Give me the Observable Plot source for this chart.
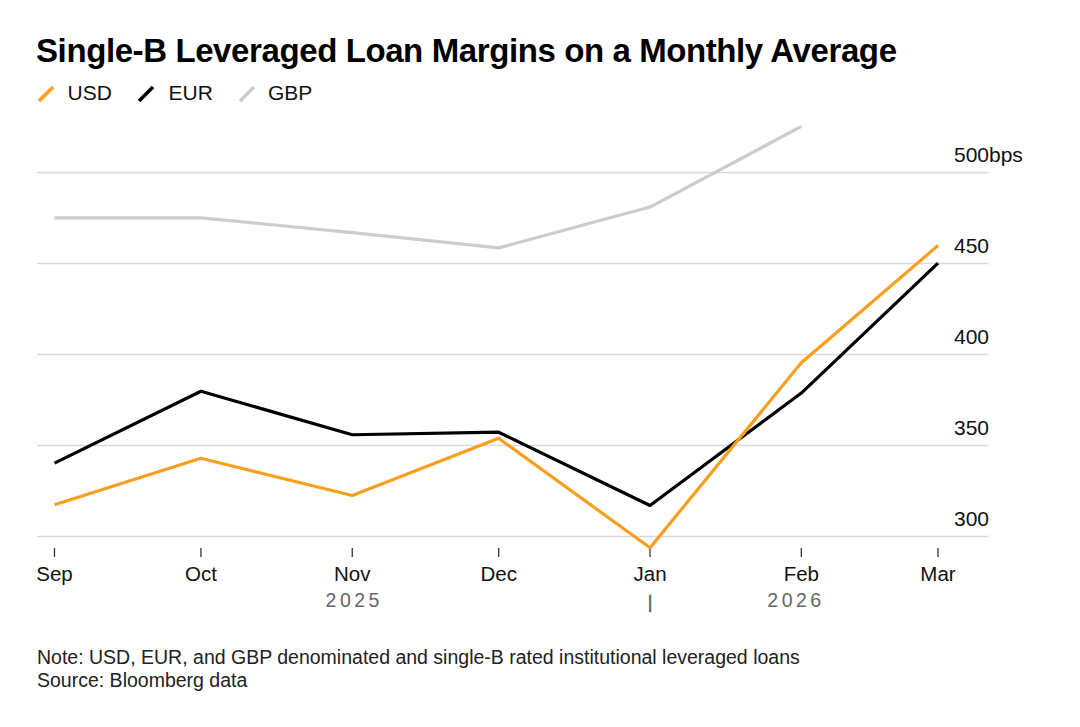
<!DOCTYPE html>
<html><head><meta charset="utf-8">
<script src="https://cdn.jsdelivr.net/npm/d3@7"></script>
<script src="https://cdn.jsdelivr.net/npm/@observablehq/plot@0.6"></script>
<style>
body{margin:0;background:#fff;font-family:"Liberation Sans",Arial,sans-serif;color:#000;width:1080px;height:727px;position:relative;overflow:hidden}
#title{position:absolute;left:36px;top:32px;font-size:33px;line-height:38px;font-weight:bold;white-space:nowrap;letter-spacing:-0.4px}
#legend{position:absolute;left:0;top:81px;width:400px;height:24px;font-size:21px;line-height:24px;color:#111}
#legend span{position:absolute;top:0}
#legend svg{position:absolute;left:0;top:0;overflow:visible}
#chart{position:absolute;left:0;top:110px}
#note{position:absolute;left:37px;top:646px;font-size:19.5px;line-height:22.5px;color:#222;white-space:nowrap}
</style></head>
<body>
<div id="title">Single-B Leveraged Loan Margins on a Monthly Average</div>
<div id="legend"></div>
<div id="chart"></div>
<div id="note">Note: USD, EUR, and GBP denominated and single-B rated institutional leveraged loans<br>Source: Bloomberg data</div>
<script>
const months = ["2025-09-01","2025-10-01","2025-11-01","2025-12-01","2026-01-01","2026-02-01","2026-03-01"];
const monthLabels = ["Sep","Oct","Nov","Dec","Jan","Feb","Mar"];
const usd = [317.4, 343.0, 322.5, 354.0, 293.8, 395.5, 459.9];
const eur = [340.3, 379.8, 355.9, 357.3, 317.0, 378.8, 450.2];
const gbp = [475.1, 475.1, 467.0, 458.6, 481.0, 525.3, null];
const series = ["USD","EUR","GBP"];
const colors = ["#fa9e1e","#000000","#cccccc"];
const yTicks = [300, 350, 400, 450, 500];
const yUnit = "bps";
const years = [
  {label:"2025", from:"2025-09-01", to:"2026-01-01"},
  {label:"2026", from:"2026-01-01", to:"2026-03-01"}
];
const yearBreak = "2026-01-01";

const parse = d3.utcParse("%Y-%m-%d");
const monthDates = months.map(parse);
const valuesBy = {USD: usd, EUR: eur, GBP: gbp};
const rows = [];
for (const s of ["GBP","EUR","USD"]) {
  valuesBy[s].forEach((v, i) => { if (v != null) rows.push({series: s, date: monthDates[i], value: v}); });
}

// legend
const legend = document.getElementById("legend");
const lx = [38, 138, 239];
const tx = [67.5, 168.5, 268];
let svgL = '<svg width="400" height="24">';
series.forEach((s, i) => {
  svgL += `<line x1="${lx[i]+1}" y1="20" x2="${lx[i]+15}" y2="6" stroke="${colors[i]}" stroke-width="3.5"/>`;
});
svgL += '</svg>';
legend.innerHTML = svgL + series.map((s, i) => `<span style="left:${tx[i]}px">${s}</span>`).join("");

const chart = Plot.plot({
  width: 1080, height: 510,
  marginLeft: 54, marginRight: 142.5, marginTop: 62, marginBottom: 84,
  x: {type: "utc", domain: [monthDates[0], monthDates[monthDates.length-1]]},
  y: {domain: [300, 500], axis: null},
  color: {domain: series, range: colors},
  style: {fontFamily: "Liberation Sans, Arial, sans-serif", fontSize: "20px", color: "#222", overflow: "visible", background: "transparent"},
  marks: [
    Plot.ruleY(yTicks, {stroke: "#d9d9d9", strokeWidth: 1.5, insetLeft: -17, insetRight: -51}),
    Plot.axisX({ticks: monthDates, tickFormat: d => monthLabels[monthDates.findIndex(m => +m === +d)], tickSize: 9, tickPadding: 9, dy: 12, fontSize: 20.5, label: null, stroke: "#333", strokeWidth: 1.3, fill: "#111"}),
    Plot.text(yTicks, {y: d => d, text: d => String(d), frameAnchor: "right", textAnchor: "end", dx: 51, dy: -17, fontSize: 21, fill: "#111"}),
    Plot.text([yTicks[yTicks.length-1]], {y: d => d, text: () => yUnit, frameAnchor: "right", textAnchor: "start", dx: 51, dy: -17, fontSize: 21, fill: "#111"}),
    Plot.line(rows, {x: "date", y: "value", z: "series", stroke: "series", strokeWidth: 3.2, strokeLinejoin: "miter", strokeLinecap: "butt"}),
    Plot.text(years, {x: d => new Date((+parse(d.from) + +parse(d.to)) / 2), text: "label", frameAnchor: "bottom", lineAnchor: "middle", dy: 64.5, dx: 2, fill: "#666", fontSize: 19.5}),
    Plot.text([parse(yearBreak)], {x: d => d, text: () => "|", frameAnchor: "bottom", lineAnchor: "middle", dy: 66, fill: "#555", stroke: "#555", strokeWidth: 0.4, fontSize: 18})
  ]
});
d3.select(chart).selectAll("text")
  .filter(function() { return years.some(y => y.label === this.textContent); })
  .style("letter-spacing", "3.5px");
document.getElementById("chart").appendChild(chart);
</script>
</body></html>
